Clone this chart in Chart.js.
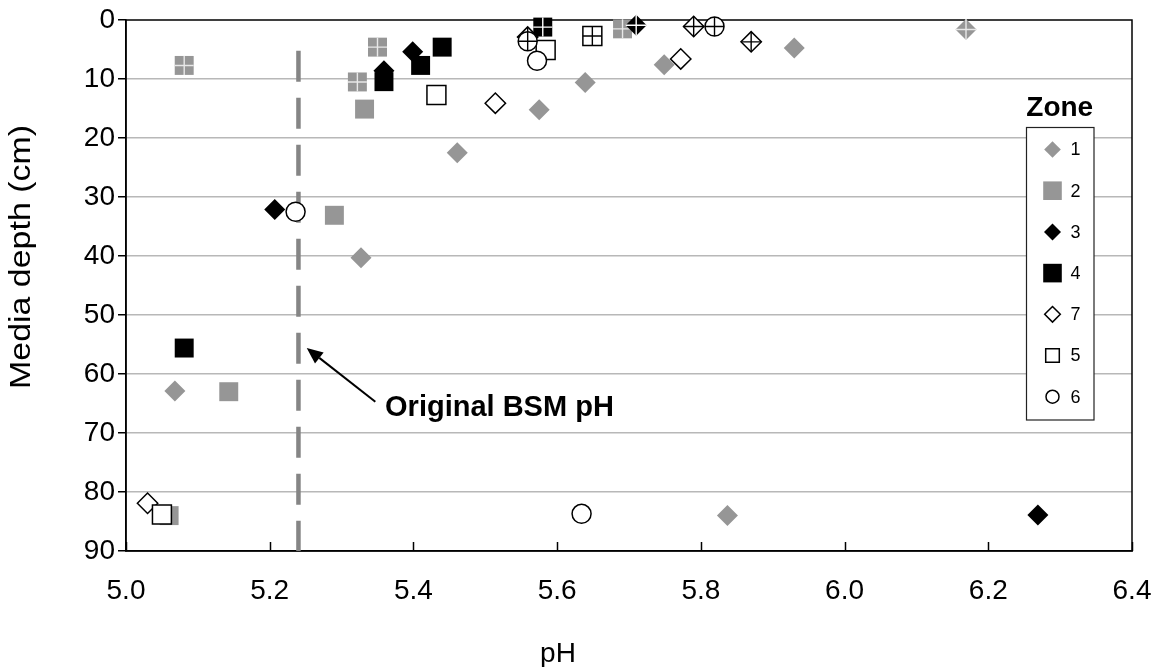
<!DOCTYPE html>
<html><head><meta charset="utf-8">
<script src="https://cdn.jsdelivr.net/npm/chart.js@4.4.1/dist/chart.umd.min.js"></script>
<style>html,body{margin:0;padding:0;background:#fff}#wrap{width:1162px;height:667px}</style>
</head><body><div id="wrap"><canvas id="c" width="1162" height="667"></canvas></div>
<script>
// ---- data (pH, media depth in cm) ----
const zoneNames = ['1', '2', '3', '4', '7', '5', '6'];

const zone1PH    = [5.461, 5.575, 5.639, 5.749, 5.930, 6.169, 5.327, 5.068, 5.837];
const zone1Depth = [22.5, 15.2, 10.6, 7.6, 4.75, 1.6, 40.3, 62.9, 84.0];
const zone1Cross = [0, 0, 0, 0, 0, 1, 0, 0, 0];

const zone2PH    = [5.081, 5.350, 5.322, 5.691, 5.332, 5.290, 5.143, 5.060];
const zone2Depth = [7.7, 4.6, 10.5, 1.5, 15.1, 33.1, 63.0, 84.0];
const zone2Cross = [1, 1, 1, 1, 0, 0, 0, 0];

const zone3PH    = [5.359, 5.399, 5.207, 5.710, 6.269];
const zone3Depth = [8.6, 5.4, 32.1, 0.9, 83.9];
const zone3Cross = [0, 0, 0, 1, 0];

const zone4PH    = [5.359, 5.410, 5.440, 5.580, 5.081];
const zone4Depth = [10.45, 7.7, 4.6, 1.2, 55.6];
const zone4Cross = [0, 0, 0, 1, 0];

const zone7PH    = [5.559, 5.790, 5.870, 5.514, 5.772, 5.030];
const zone7Depth = [2.9, 1.1, 3.7, 14.1, 6.6, 81.9];
const zone7Cross = [1, 1, 1, 0, 0, 0];

const zone5PH    = [5.649, 5.432, 5.584, 5.050];
const zone5Depth = [2.7, 12.7, 5.1, 83.8];
const zone5Cross = [1, 0, 0, 0];

const zone6PH    = [5.559, 5.819, 5.572, 5.236, 5.634];
const zone6Depth = [3.6, 1.1, 6.9, 32.5, 83.7];
const zone6Cross = [1, 1, 0, 0, 0];

const bsmLinePH    = [5.24, 5.24];
const bsmLineDepth = [5.2, 90];

const xTickValues = [5.0, 5.2, 5.4, 5.6, 5.8, 6.0, 6.2, 6.4];
const xTickLabels = ['5.0', '5.2', '5.4', '5.6', '5.8', '6.0', '6.2', '6.4'];
const yTickValues = [0, 10, 20, 30, 40, 50, 60, 70, 80, 90];
const yTickLabels = ['0', '10', '20', '30', '40', '50', '60', '70', '80', '90'];

const xAxisTitle = 'pH';
const yAxisTitle = 'Media depth (cm)';
const annotationText = 'Original BSM pH';
const arrowTail = {x: 5.347, y: 64.7};
const arrowTip  = {x: 5.2515, y: 55.6};
const textAnchor = {x: 5.3605, y: 65.8};
const legendTitle = 'Zone';

// ---- styles ----
const GREY = '#969696';
const FONT = '"Liberation Sans", Arial, Helvetica, sans-serif';

const styles = {
  '1': {pointStyle: 'rectRot', radius: 10.5, bg: GREY, border: GREY, bw: 0, cross: '#e8e8e8', crossR: 10.5, lg: {shape: 'diamond', s: 8.3}},
  '2': {pointStyle: 'rect', radius: 13.4, bg: GREY, border: GREY, bw: 0, cross: '#e8e8e8', crossR: 9.5, lg: {shape: 'square', s: 9.3}},
  '3': {pointStyle: 'rectRot', radius: 10.5, bg: '#000', border: '#000', bw: 0, cross: '#fff', crossR: 10.5, lg: {shape: 'diamond', s: 8.5}},
  '4': {pointStyle: 'rect', radius: 13.4, bg: '#000', border: '#000', bw: 0, cross: '#fff', crossR: 9.5, lg: {shape: 'square', s: 9.3}},
  '7': {pointStyle: 'rectRot', radius: 10.2, bg: '#fff', border: '#000', bw: 1.5, cross: '#000', crossR: 10.2, lg: {shape: 'diamond', s: 7.8}},
  '5': {pointStyle: 'rect', radius: 13.4, bg: '#fff', border: '#000', bw: 1.5, cross: '#000', crossR: 9.5, lg: {shape: 'square', s: 6.8}},
  '6': {pointStyle: 'circle', radius: 9.5, bg: '#fff', border: '#000', bw: 1.5, cross: '#000', crossR: 9.5, lg: {shape: 'circle', s: 6.5}}
};

const zoneSeries = [
  ['1', zone1PH, zone1Depth, zone1Cross],
  ['2', zone2PH, zone2Depth, zone2Cross],
  ['3', zone3PH, zone3Depth, zone3Cross],
  ['4', zone4PH, zone4Depth, zone4Cross],
  ['7', zone7PH, zone7Depth, zone7Cross],
  ['5', zone5PH, zone5Depth, zone5Cross],
  ['6', zone6PH, zone6Depth, zone6Cross]
];

const datasets = [{
  label: 'BSM', type: 'scatter', showLine: true,
  data: bsmLinePH.map((x, i) => ({x, y: bsmLineDepth[i]})),
  borderColor: '#858585', borderWidth: 4.5, borderDash: [31, 16],
  pointRadius: 0, order: 100, clip: false
}];

zoneSeries.forEach(([name, xs, ys, cr], k) => {
  const st = styles[name];
  const base = 90 - k * 10;
  datasets.push({
    label: name,
    data: xs.map((x, i) => ({x, y: ys[i]})),
    pointStyle: st.pointStyle, pointRadius: st.radius,
    backgroundColor: st.bg, borderColor: st.border, borderWidth: st.bw,
    order: base, clip: false
  });
  const crossPts = [];
  xs.forEach((x, i) => { if (cr[i]) crossPts.push({x, y: ys[i]}); });
  if (crossPts.length) {
    datasets.push({
      label: name + '_cross',
      data: crossPts,
      pointStyle: 'cross', pointRadius: st.crossR,
      borderColor: st.cross, backgroundColor: st.cross, borderWidth: 1.4,
      order: base - 1, clip: false
    });
  }
});

function drawShape(ctx, shape, x, y, s, fill, stroke, lw) {
  ctx.beginPath();
  if (shape === 'diamond') {
    ctx.moveTo(x, y - s); ctx.lineTo(x + s, y); ctx.lineTo(x, y + s); ctx.lineTo(x - s, y); ctx.closePath();
  } else if (shape === 'square') {
    ctx.rect(x - s, y - s, 2 * s, 2 * s);
  } else {
    ctx.arc(x, y, s, 0, Math.PI * 2);
  }
  ctx.fillStyle = fill; ctx.fill();
  if (lw > 0) { ctx.lineWidth = lw; ctx.strokeStyle = stroke; ctx.stroke(); }
}

const framePlugin = {
  id: 'frame',
  beforeDatasetsDraw(chart) {
    const {ctx, chartArea: a, scales} = chart;
    ctx.save();
    ctx.strokeStyle = '#000'; ctx.lineWidth = 1.5;
    ctx.strokeRect(a.left, a.top, a.right - a.left, a.bottom - a.top);
    // inward x tick marks
    xTickValues.forEach(v => {
      const px = Math.round(scales.x.getPixelForValue(v)) + 0.5;
      ctx.beginPath(); ctx.moveTo(px, a.bottom); ctx.lineTo(px, a.bottom - 9); ctx.stroke();
    });
    ctx.restore();
  },
  afterDatasetsDraw(chart) {
    const {ctx, chartArea: a, scales} = chart;
    const sx = scales.x, sy = scales.y;
    ctx.save();
    // axis titles
    ctx.fillStyle = '#000';
    ctx.font = '28px ' + FONT;
    ctx.textAlign = 'center'; ctx.textBaseline = 'middle';
    ctx.fillText(xAxisTitle, a.left + 432, 654);
    ctx.save();
    ctx.translate(22, a.top + 237);
    ctx.rotate(-Math.PI / 2);
    ctx.scale(1.17, 1);
    ctx.font = '29px ' + FONT;
    ctx.fillText(yAxisTitle, 0, 0);
    ctx.restore();
    // arrow
    const tx = sx.getPixelForValue(arrowTail.x), ty = sy.getPixelForValue(arrowTail.y);
    const hx = sx.getPixelForValue(arrowTip.x), hy = sy.getPixelForValue(arrowTip.y);
    const ang = Math.atan2(hy - ty, hx - tx);
    const hl = 16, hw = 7;
    const bx = hx - hl * Math.cos(ang), by = hy - hl * Math.sin(ang);
    ctx.strokeStyle = '#000'; ctx.lineWidth = 2;
    ctx.beginPath(); ctx.moveTo(tx, ty); ctx.lineTo(bx, by); ctx.stroke();
    ctx.fillStyle = '#000';
    ctx.beginPath();
    ctx.moveTo(hx, hy);
    ctx.lineTo(bx + hw * Math.sin(ang), by - hw * Math.cos(ang));
    ctx.lineTo(bx - hw * Math.sin(ang), by + hw * Math.cos(ang));
    ctx.closePath(); ctx.fill();
    // annotation text
    ctx.font = 'bold 29px ' + FONT;
    ctx.textAlign = 'left'; ctx.textBaseline = 'middle';
    ctx.fillText(annotationText, sx.getPixelForValue(textAnchor.x), sy.getPixelForValue(textAnchor.y));

    // legend (inside plot area, top right)
    const L = a.right - 105.5, R = a.right - 38, T = a.top + 107.5, B = a.top + 400;
    ctx.fillStyle = '#fff';
    ctx.fillRect(L, T, R - L, B - T);
    ctx.strokeStyle = '#222'; ctx.lineWidth = 1.2;
    ctx.strokeRect(L, T, R - L, B - T);
    ctx.fillStyle = '#000';
    ctx.font = 'bold 28px ' + FONT;
    ctx.textAlign = 'center'; ctx.textBaseline = 'middle';
    ctx.fillText(legendTitle, (L + R) / 2 - 0.5, T - 19);
    ctx.font = '18px ' + FONT;
    ctx.textAlign = 'left';
    zoneNames.forEach((n, i) => {
      const st = styles[n];
      const y = T + 22 + i * 41.2;
      const mx = L + 26;
      drawShape(ctx, st.lg.shape, mx, y, st.lg.s, st.bg, st.border, st.bw > 0 ? 1.5 : 0);
      ctx.fillStyle = '#000';
      ctx.fillText(n, L + 44, y + 1);
    });
    ctx.restore();
  }
};

new Chart(document.getElementById('c'), {
  type: 'scatter',
  data: {datasets},
  options: {
    responsive: false, animation: false, events: [],
    layout: {padding: {top: 20, right: 30, left: 0, bottom: 0}},
    plugins: {legend: {display: false}, tooltip: {enabled: false}},
    scales: {
      x: {
        type: 'linear', min: 5.0, max: 6.4,
        afterFit(s) { s.height = 116; s.paddingLeft = 0; s.paddingRight = 0; },
        afterBuildTicks(s) { s.ticks = xTickValues.map(v => ({value: v})); },
        ticks: {
          color: '#000', padding: 15, font: {family: FONT, size: 28},
          callback: (v) => { const i = xTickValues.findIndex(t => Math.abs(t - v) < 1e-9); return i >= 0 ? xTickLabels[i] : ''; }
        },
        grid: {display: false},
        border: {display: true, color: '#000', width: 1.5},
        title: {display: false}
      },
      y: {
        type: 'linear', min: 0, max: 90, reverse: true,
        afterFit(s) { s.width = 126; s.paddingTop = 0; s.paddingBottom = 0; },
        afterBuildTicks(s) { s.ticks = yTickValues.map(v => ({value: v})); },
        ticks: {
          color: '#000', padding: 3, font: {family: FONT, size: 28},
          callback: (v) => { const i = yTickValues.indexOf(v); return i >= 0 ? yTickLabels[i] : ''; }
        },
        grid: {
          display: true, drawOnChartArea: true, drawTicks: true, tickLength: 8,
          tickColor: '#000', tickWidth: 1.5, lineWidth: 1.5,
          color: (c) => (c.tick && (c.tick.value === 0 || c.tick.value === 90)) ? 'rgba(0,0,0,0)' : '#b8b8b8'
        },
        border: {display: true, color: '#000', width: 1.5},
        title: {display: false}
      }
    }
  },
  plugins: [framePlugin]
});
</script>
</body></html>
